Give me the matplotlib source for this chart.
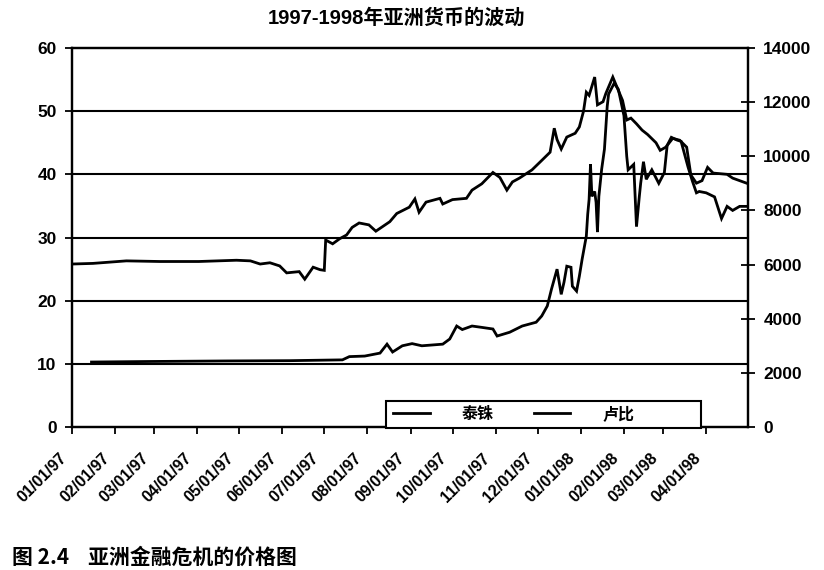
import matplotlib
matplotlib.use("Agg")
import matplotlib.pyplot as plt
from matplotlib.lines import Line2D
from matplotlib.patches import Rectangle
from matplotlib.transforms import ScaledTranslation
import pandas as pd

plt.rcParams['font.family'] = ['Liberation Sans', 'Noto Sans CJK SC', 'DejaVu Sans']

title = "1997-1998年亚洲货币的波动"
caption = "图 2.4    亚洲金融危机的价格图"
series_names = ["泰铢", "卢比"]

baht_dates = ["1997-01-01", "1997-01-16", "1997-02-09", "1997-03-05", "1997-04-02", "1997-04-29",
              "1997-05-09", "1997-05-16", "1997-05-23", "1997-05-30", "1997-06-04", "1997-06-13",
              "1997-06-17", "1997-06-23", "1997-06-28", "1997-07-01", "1997-07-02", "1997-07-07",
              "1997-07-12", "1997-07-17", "1997-07-21", "1997-07-26", "1997-08-02", "1997-08-07",
              "1997-08-17", "1997-08-22", "1997-08-31", "1997-09-04", "1997-09-07", "1997-09-12",
              "1997-09-22", "1997-09-24", "1997-10-01", "1997-10-11", "1997-10-15", "1997-10-22",
              "1997-10-30", "1997-11-04", "1997-11-09", "1997-11-13", "1997-11-18", "1997-11-27",
              "1997-12-04", "1997-12-10", "1997-12-13", "1997-12-15", "1997-12-18", "1997-12-22",
              "1997-12-28", "1997-12-31", "1998-01-03", "1998-01-05", "1998-01-07", "1998-01-11",
              "1998-01-13", "1998-01-17", "1998-01-19", "1998-01-24", "1998-01-27", "1998-01-31",
              "1998-02-03", "1998-02-06", "1998-02-10", "1998-02-14", "1998-02-18", "1998-02-24",
              "1998-02-27", "1998-03-03", "1998-03-08", "1998-03-13", "1998-03-18", "1998-03-21",
              "1998-03-25", "1998-03-29", "1998-04-02", "1998-04-06", "1998-04-16", "1998-04-20",
              "1998-04-30"]
baht_values = [25.8, 25.9, 26.3, 26.2, 26.2, 26.4,
               26.3, 25.8, 26.0, 25.5, 24.4, 24.6,
               23.4, 25.3, 24.9, 24.8, 29.6, 29.0,
               29.8, 30.4, 31.6, 32.3, 32.0, 31.0,
               32.5, 33.8, 34.8, 36.1, 34.0, 35.6,
               36.2, 35.3, 36.0, 36.2, 37.5, 38.5,
               40.3, 39.5, 37.5, 38.8, 39.4, 40.7,
               42.2, 43.5, 47.3, 45.5, 44.0, 45.9,
               46.5, 47.5, 50.0, 53.0, 52.5, 55.4,
               51.0, 51.5, 52.8, 55.4, 53.8, 51.7,
               48.6, 48.9, 48.0, 47.0, 46.3, 45.0,
               43.8, 44.3, 45.7, 45.4, 44.3, 39.9,
               38.6, 39.0, 41.1, 40.2, 40.0, 39.4,
               38.6]

rupiah_dates = ["1997-01-15", "1997-02-26", "1997-04-22", "1997-06-06", "1997-07-14", "1997-07-19",
                "1997-07-30", "1997-08-10", "1997-08-15", "1997-08-19", "1997-08-26", "1997-09-02",
                "1997-09-09", "1997-09-24", "1997-09-29", "1997-10-04", "1997-10-08", "1997-10-15",
                "1997-10-22", "1997-10-30", "1997-11-02", "1997-11-11", "1997-11-20", "1997-11-30",
                "1997-12-04", "1997-12-08", "1997-12-11", "1997-12-13", "1997-12-15", "1997-12-18",
                "1997-12-20", "1997-12-22", "1997-12-25", "1997-12-26", "1997-12-29", "1997-12-31",
                "1998-01-02", "1998-01-05", "1998-01-06", "1998-01-07", "1998-01-08", "1998-01-09",
                "1998-01-11", "1998-01-12", "1998-01-13", "1998-01-14", "1998-01-16", "1998-01-18",
                "1998-01-20", "1998-01-21", "1998-01-25", "1998-01-28", "1998-02-01", "1998-02-03",
                "1998-02-04", "1998-02-06", "1998-02-08", "1998-02-10", "1998-02-12", "1998-02-13",
                "1998-02-15", "1998-02-17", "1998-02-21", "1998-02-26", "1998-03-02", "1998-03-04",
                "1998-03-07", "1998-03-11", "1998-03-14", "1998-03-19", "1998-03-22", "1998-03-25",
                "1998-03-27", "1998-04-01", "1998-04-07", "1998-04-12", "1998-04-16", "1998-04-20",
                "1998-04-25", "1998-04-30"]
rupiah_values = [2400, 2420, 2440, 2450, 2480, 2600,
                 2620, 2730, 3060, 2770, 3000, 3080,
                 3000, 3060, 3250, 3730, 3600, 3730,
                 3680, 3620, 3360, 3500, 3730, 3870,
                 4100, 4470, 5090, 5460, 5830, 4900,
                 5350, 5940, 5900, 5200, 5020, 5570,
                 6200, 7050, 7860, 8410, 9700, 8520,
                 8700, 8300, 7200, 8520, 9520, 10260,
                 11850, 12300, 12700, 12470, 11500, 10000,
                 9500, 9600, 9700, 7400, 8500, 9000,
                 9800, 9150, 9500, 9000, 9400, 10400,
                 10700, 10600, 10550, 9600, 9100, 8650,
                 8700, 8650, 8500, 7700, 8150, 8000,
                 8150, 8150]

left_ticks = [0, 10, 20, 30, 40, 50, 60]
right_ticks = [0, 2000, 4000, 6000, 8000, 10000, 12000, 14000]
month_ticks = pd.date_range("1997-01-01", "1998-04-01", freq="MS")

W, H = 824, 570
fig = plt.figure(figsize=(W / 100, H / 100), dpi=100)
ax = fig.add_axes([72 / W, 1 - 427 / H, (748 - 72) / W, (427 - 48) / H])
ax2 = ax.twinx()

bd = pd.to_datetime(baht_dates)
rd = pd.to_datetime(rupiah_dates)
lw = 2.0
ax.plot(bd, baht_values, color="black", lw=lw, solid_joinstyle="miter", zorder=3)
ax2.plot(rd, rupiah_values, color="black", lw=lw, solid_joinstyle="miter", zorder=3)

ax.set_xlim(pd.Timestamp("1997-01-01"), pd.Timestamp("1998-05-01"))
ax.set_ylim(0, 60)
ax2.set_ylim(0, 14000)
ax.set_yticks(left_ticks)
ax2.set_yticks(right_ticks)
ax.set_xticks(month_ticks)
ax.set_xticklabels([d.strftime("%m/%d/%y") for d in month_ticks])

for v in left_ticks[1:-1]:
    ax.axhline(v, color="black", lw=1.5, zorder=1)

for a in (ax, ax2):
    for s in a.spines.values():
        s.set_linewidth(1.6)
        s.set_color("black")

ax.tick_params(axis="y", direction="out", length=5, width=1.3, pad=6, labelsize=12.5)
ax.tick_params(axis="x", direction="out", length=5, width=1.3, pad=2, labelsize=11.5)
ax2.tick_params(axis="y", direction="inout", length=10, width=1.3, pad=6, labelsize=12.5)
for lab in ax.get_yticklabels() + ax2.get_yticklabels():
    lab.set_fontweight("bold")
offset = ScaledTranslation(-8 / 100, -19 / 100, fig.dpi_scale_trans)
for lab in ax.get_xticklabels():
    lab.set_fontweight("bold")
    lab.set_rotation(45)
    lab.set_ha("right")
    lab.set_va("center")
    lab.set_rotation_mode("anchor")
    lab.set_transform(lab.get_transform() + offset)

fig.text(396 / W, 1 - 18 / H, title, ha="center", va="center", fontsize=14.5, fontweight="bold")
fig.text(12 / W, 1 - 557 / H, caption, ha="left", va="center", fontsize=15,
         fontweight="bold", family=["Noto Sans CJK SC", "Liberation Serif"])

# legend box
box = Rectangle((386 / W, 1 - 428 / H), (701 - 386) / W, 27 / H, transform=fig.transFigure,
                facecolor="white", edgecolor="black", lw=1.5, zorder=4)
fig.add_artist(box)
handles = [Line2D([], [], color="black", lw=lw), Line2D([], [], color="black", lw=lw)]
leg = fig.legend(handles, series_names, ncol=2, loc="center left",
                 bbox_to_anchor=(393 / W, 1 - 414 / H), frameon=False,
                 prop={"weight": "bold", "size": 11.5}, handlelength=2.3, handletextpad=2.0,
                 columnspacing=2.5, borderpad=0, borderaxespad=0)
leg.set_zorder(5)

fig.savefig("out.png", dpi=100, facecolor="white")
